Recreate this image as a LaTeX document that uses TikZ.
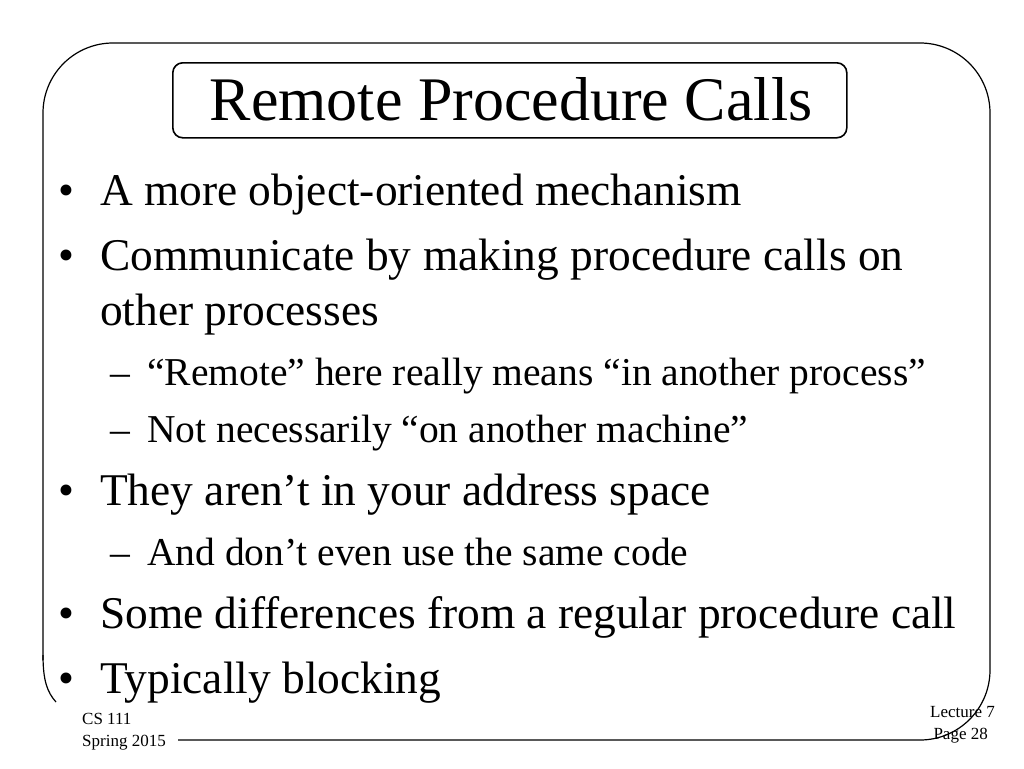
\documentclass[tikz,border=0pt]{standalone}
\usepackage{fontspec}
\setmainfont{Liberation Serif}
\begin{document}
\begin{tikzpicture}[x=1pt,y=-1pt,
  bl/.style={anchor=base west,inner sep=0pt,font=\fontsize{45.4}{45}\selectfont},
  sb/.style={anchor=base west,inner sep=0pt,font=\fontsize{39.5}{39}\selectfont},
  ft/.style={anchor=base west,inner sep=0pt,font=\fontsize{17}{17}\selectfont},
  frame/.style={draw=black,line width=1.2pt}]
\useasboundingbox (0,0) rectangle (1024,768);
\draw[frame,rounded corners=70pt] (43,660) -- (43,43) -- (990,43) -- (990,740) -- (178,740);
\draw[frame] (43,655) .. controls (43,680) and (47,692) .. (56,702);
\node[draw,line width=1.6pt,rounded corners=10pt,minimum width=674pt,minimum height=75pt,anchor=north west,inner sep=0pt] (title) at (172,62) {};
\node[anchor=base,inner sep=0pt,font=\fontsize{62}{62}\selectfont] (tt) at (511,120) {Remote Procedure Calls};
\foreach \y/\t [count=\i] in {205/A more object-oriented mechanism,
  270/Communicate by making procedure calls on,
  505/They aren’t in your address space,
  628/Some differences from a regular procedure call,
  693/Typically blocking}
  {\node[bl] (b\i) at (100,\y) {\t};}
\foreach \y in {205,270,505,628,693} \node[bl] at (58,\y) {•};
\node[bl] (b2b) at (100,325) {other processes};
\node[sb] (d1) at (110,385) {–};
\node[sb] (s1) at (147,385) {“Remote” here really means “in another process”};
\node[sb] (d2) at (110,442) {–};
\node[sb] (s2) at (147,442) {Not necessarily “on another machine”};
\node[sb] (d3) at (110,565) {–};
\node[sb] (s3) at (147,565) {And don’t even use the same code};
\node[ft] (f1) at (82,724) {CS 111};
\node[ft] (f2) at (82,746) {Spring 2015};
\node[ft,anchor=base east] (f3) at (995,717) {Lecture 7};
\node[ft,anchor=base east] (f4) at (988,739) {Page 28};
\end{tikzpicture}
\end{document}
